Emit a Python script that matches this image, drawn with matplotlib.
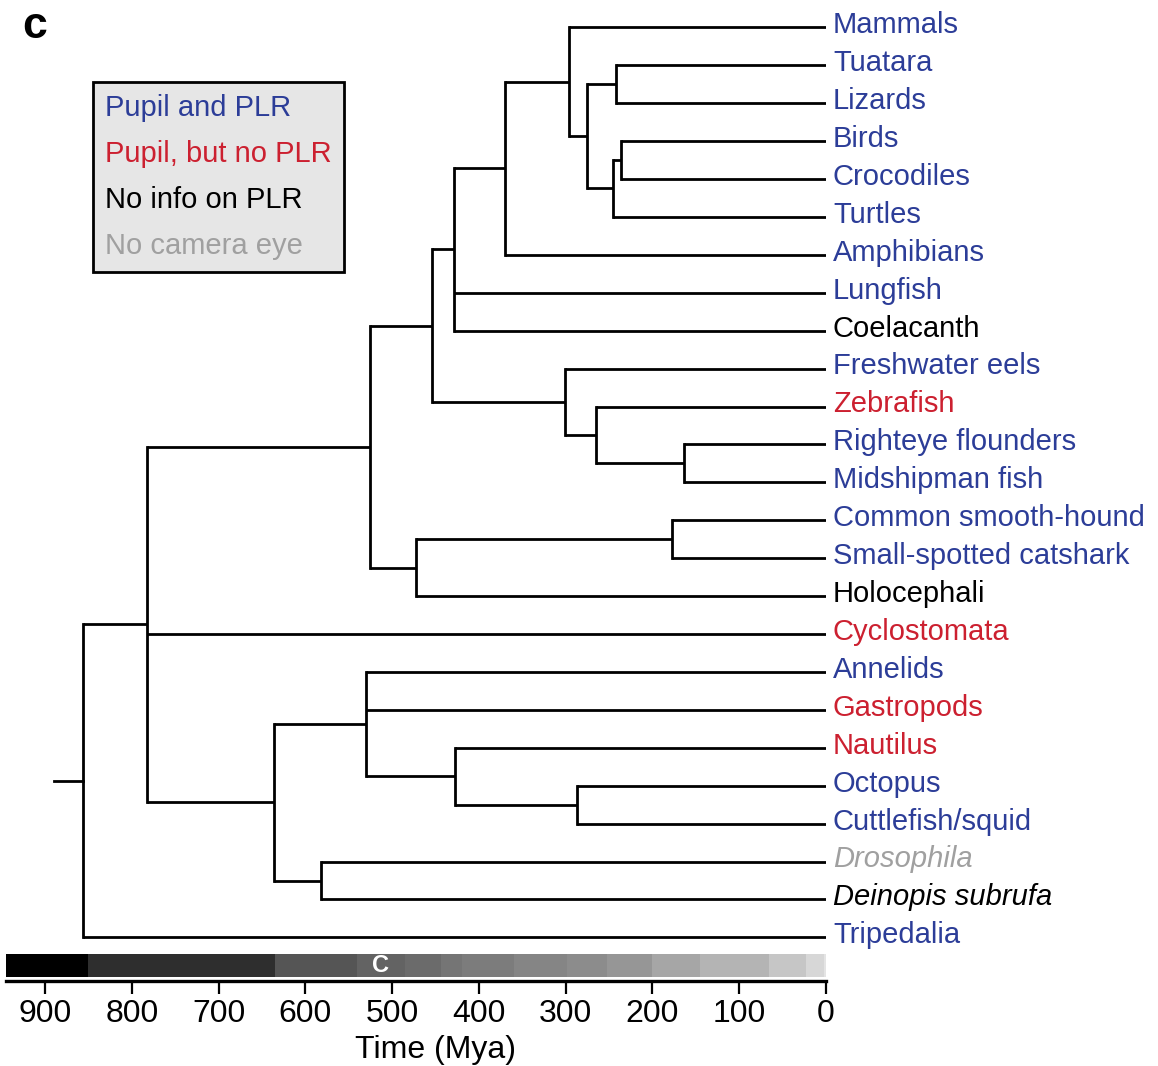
import matplotlib
matplotlib.use("Agg")
import matplotlib.pyplot as plt
from matplotlib.lines import Line2D

plt.rcParams['font.family'] = ['Liberation Sans', 'DejaVu Sans']
NARROW = ['Liberation Sans Narrow', 'Liberation Sans', 'DejaVu Sans']

# Tips, top to bottom
taxa = ['Mammals', 'Tuatara', 'Lizards', 'Birds', 'Crocodiles', 'Turtles',
        'Amphibians', 'Lungfish', 'Coelacanth', 'Freshwater eels', 'Zebrafish',
        'Righteye flounders', 'Midshipman fish', 'Common smooth-hound',
        'Small-spotted catshark', 'Holocephali', 'Cyclostomata', 'Annelids',
        'Gastropods', 'Nautilus', 'Octopus', 'Cuttlefish/squid', 'Drosophila',
        'Deinopis subrufa', 'Tripedalia']
# 0 = pupil and PLR, 1 = pupil but no PLR, 2 = no info, 3 = no camera eye
status = [0, 0, 0, 0, 0, 0, 0, 0, 2, 0, 1, 0, 0, 0, 0, 2, 1, 0, 1, 1, 0, 0, 3, 2, 0]
italic_taxa = ['Drosophila', 'Deinopis subrufa']

legend_labels = ['Pupil and PLR', 'Pupil, but no PLR', 'No info on PLR', 'No camera eye']
category_colors = ['#2c3d98', '#cc2030', '#000000', '#a0a0a0']

# internal nodes: age (Mya) and children
clade_age = {
    'root': 856, 'bilateria': 782, 'gnathostomes': 526, 'osteichthyes': 454,
    'sarcopterygii': 429, 'tetrapods': 370, 'amniotes': 296, 'sauropsids': 276,
    'lepidosaurs': 242, 'archelosaurs': 245, 'archosaurs': 236,
    'actinopterygii': 301, 'clupeocephala': 265, 'acanthomorphs': 164,
    'chondrichthyes': 472, 'elasmobranchs': 178, 'protostomes': 636,
    'lophotrochozoa': 530, 'cephalopods': 428, 'coleoids': 287, 'arthropods': 582,
}
clade_children = {
    'root': ['bilateria', 'Tripedalia'],
    'bilateria': ['gnathostomes', 'Cyclostomata', 'protostomes'],
    'gnathostomes': ['osteichthyes', 'chondrichthyes'],
    'osteichthyes': ['sarcopterygii', 'actinopterygii'],
    'sarcopterygii': ['tetrapods', 'Lungfish', 'Coelacanth'],
    'tetrapods': ['amniotes', 'Amphibians'],
    'amniotes': ['Mammals', 'sauropsids'],
    'sauropsids': ['lepidosaurs', 'archelosaurs'],
    'lepidosaurs': ['Tuatara', 'Lizards'],
    'archelosaurs': ['archosaurs', 'Turtles'],
    'archosaurs': ['Birds', 'Crocodiles'],
    'actinopterygii': ['Freshwater eels', 'clupeocephala'],
    'clupeocephala': ['Zebrafish', 'acanthomorphs'],
    'acanthomorphs': ['Righteye flounders', 'Midshipman fish'],
    'chondrichthyes': ['elasmobranchs', 'Holocephali'],
    'elasmobranchs': ['Common smooth-hound', 'Small-spotted catshark'],
    'protostomes': ['lophotrochozoa', 'arthropods'],
    'lophotrochozoa': ['Annelids', 'Gastropods', 'cephalopods'],
    'cephalopods': ['Nautilus', 'coleoids'],
    'coleoids': ['Octopus', 'Cuttlefish/squid'],
    'arthropods': ['Drosophila', 'Deinopis subrufa'],
}
root_stem_age = 890

# geologic time scale bar
period_bounds = [1000, 850, 635, 541, 485, 444, 419, 359, 299, 252, 201, 145, 66, 23, 2.6, 0]
period_colors = ['#000000', '#2e2e2e', '#555555', '#636363', '#6b6b6b', '#757575',
                 '#7c7c7c', '#858585', '#8c8c8c', '#969696', '#a6a6a6', '#b4b4b4',
                 '#c6c6c6', '#d7d7d7', '#e4e4e4']
period_labels = ['', '', '', 'C', '', '', '', '', '', '', '', '', '', '', '']

W, H = 1158, 1066
fig = plt.figure(figsize=(W / 100, H / 100), dpi=100)
ax = fig.add_axes([6 / W, 85 / H, 820 / W, 976 / H])
ax.set_xlim(945, 0)
ax.set_ylim(25.15, -0.588)


def node_y(name):
    if name in taxa:
        return taxa.index(name)
    ys = [node_y(c) for c in clade_children[name]]
    return (min(ys) + max(ys)) / 2


def node_age(name):
    return clade_age.get(name, 0)


lw = 2.0
for clade, kids in clade_children.items():
    a = clade_age[clade]
    ys = [node_y(k) for k in kids]
    ax.plot([a, a], [min(ys), max(ys)], color='black', lw=lw, solid_capstyle='projecting')
    for k, y in zip(kids, ys):
        ax.plot([a, node_age(k)], [y, y], color='black', lw=lw, solid_capstyle='butt')
ry = node_y('root')
ax.plot([root_stem_age, clade_age['root']], [ry, ry], color='black', lw=lw)

for i, name in enumerate(taxa):
    ax.annotate(name, xy=(0, i), xytext=(5, 1.5), textcoords='offset points',
                ha='left', va='center', fontsize=21, color=category_colors[status[i]],
                style='italic' if name in italic_taxa else 'normal',
                annotation_clip=False)

# time scale bar
bar_y0, bar_h = 24.44, 0.6
for j in range(len(period_colors)):
    left, right = period_bounds[j], period_bounds[j + 1]
    ax.broken_barh([(right, left - right)], (bar_y0, bar_h), facecolors=period_colors[j])
    if period_labels[j]:
        ax.text((left + right) / 2, bar_y0 + bar_h / 2, period_labels[j], color='white',
                ha='center', va='center', fontsize=17, fontweight='bold', family=NARROW)

for s in ['left', 'top', 'right']:
    ax.spines[s].set_visible(False)
ax.spines['bottom'].set_linewidth(2.4)
ax.set_yticks([])
ax.set_xticks(range(0, 901, 100))
ax.tick_params(axis='x', length=9, width=1.6, pad=4, labelsize=23)
for t in ax.get_xticklabels():
    t.set_family(NARROW)
ax.set_xlabel('Time (Mya)', fontsize=23, family=NARROW)
ax.xaxis.set_label_coords(0.524, -0.055)

handles = [Line2D([], [], linestyle='none') for _ in legend_labels]
leg = fig.legend(handles, legend_labels, loc='upper left',
                 bbox_to_anchor=(93 / W, 1 - 82 / H), bbox_transform=fig.transFigure,
                 handlelength=0, handletextpad=0, labelcolor=category_colors,
                 fontsize=21, frameon=True, fancybox=False, borderpad=0.42,
                 labelspacing=0.61, borderaxespad=0)
leg.get_frame().set_facecolor('#e6e6e6')
leg.get_frame().set_edgecolor('black')
leg.get_frame().set_linewidth(2)
leg.get_frame().set_alpha(1)

fig.text(22 / W, 1 - 27 / H, 'c', fontsize=32, fontweight='bold', va='center')

fig.savefig('out.png', dpi=100)
